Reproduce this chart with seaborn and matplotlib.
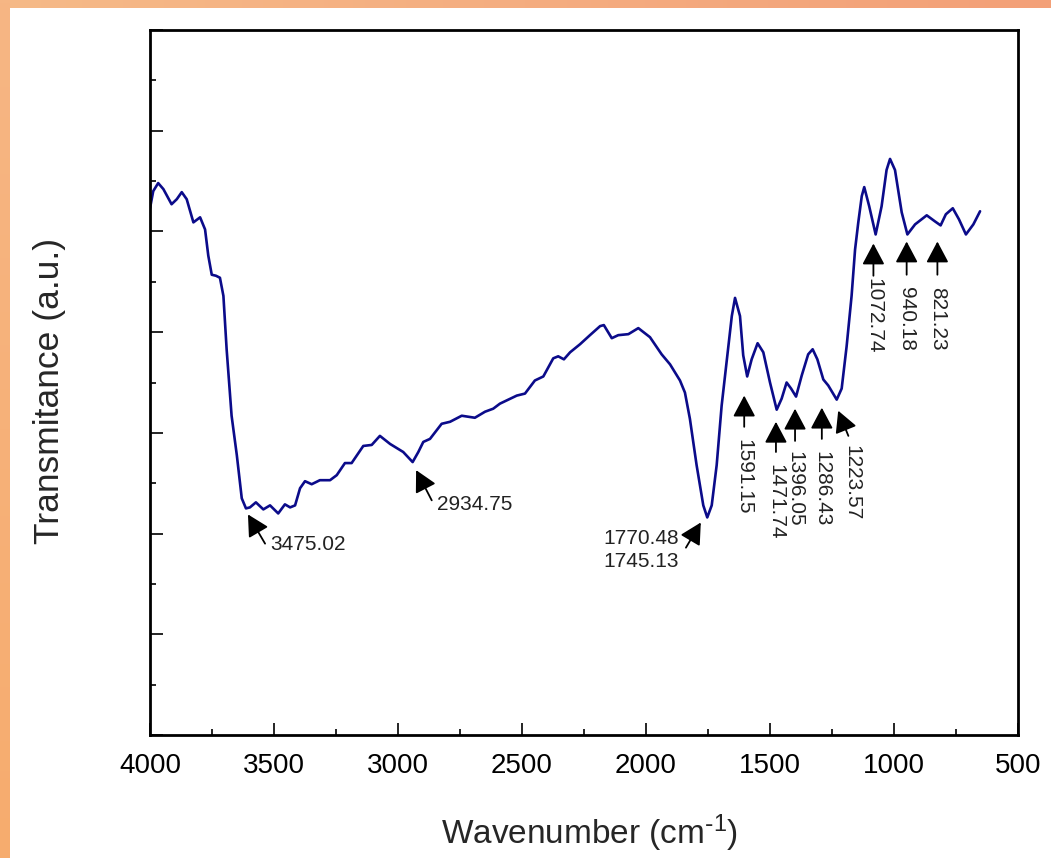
import numpy as np
import pandas as pd
import matplotlib
matplotlib.use("Agg")
import matplotlib.pyplot as plt
from matplotlib.patches import ArrowStyle
from matplotlib.ticker import MultipleLocator, NullFormatter
import seaborn as sns

# FTIR spectrum (wavenumber in cm^-1, transmittance in arbitrary units)
wavenumber = [
    4000, 3987, 3967, 3946, 3913, 3892, 3872, 3852, 3825, 3798, 3778, 3765,
    3751, 3734, 3718, 3704, 3691, 3671, 3650, 3630, 3613, 3597, 3573, 3543,
    3516, 3483, 3456, 3435, 3415, 3395, 3375, 3348, 3315, 3274, 3247, 3214,
    3187, 3140, 3106, 3073, 3032, 2979, 2941, 2918, 2898, 2871, 2824, 2790,
    2743, 2690, 2649, 2616, 2589, 2521, 2488, 2448, 2414, 2374, 2354, 2331,
    2306, 2266, 2226, 2185, 2170, 2138, 2112, 2071, 2031, 1984, 1937, 1903,
    1863, 1843, 1823, 1796, 1769, 1753, 1735, 1715, 1695, 1675, 1654, 1641,
    1621, 1608, 1592, 1574, 1550, 1527, 1500, 1473, 1453, 1433, 1415, 1395,
    1372, 1346, 1328, 1309, 1285, 1265, 1231, 1211, 1191, 1171, 1157, 1144,
    1130, 1120, 1100, 1074, 1050, 1030, 1016, 996, 969, 946, 915, 868,
    835, 812, 791, 763, 738, 710, 680, 653,
]
transmittance = [
    5.23, 5.40, 5.48, 5.42, 5.27, 5.32, 5.39, 5.32, 5.09, 5.14, 5.02, 4.76,
    4.57, 4.56, 4.54, 4.36, 3.83, 3.17, 2.78, 2.35, 2.25, 2.26, 2.31, 2.24,
    2.28, 2.20, 2.29, 2.26, 2.28, 2.45, 2.52, 2.49, 2.53, 2.53, 2.58, 2.70,
    2.70, 2.87, 2.88, 2.97, 2.89, 2.81, 2.71, 2.81, 2.91, 2.94, 3.09, 3.11,
    3.17, 3.15, 3.21, 3.24, 3.29, 3.37, 3.39, 3.52, 3.56, 3.74, 3.76, 3.73,
    3.80, 3.88, 3.97, 4.06, 4.07, 3.94, 3.97, 3.98, 4.04, 3.95, 3.78, 3.68,
    3.52, 3.40, 3.14, 2.68, 2.28, 2.16, 2.28, 2.68, 3.27, 3.70, 4.16, 4.34,
    4.16, 3.77, 3.56, 3.73, 3.89, 3.80, 3.50, 3.23, 3.34, 3.50, 3.44, 3.36,
    3.57, 3.78, 3.83, 3.73, 3.53, 3.47, 3.33, 3.44, 3.86, 4.36, 4.82, 5.09,
    5.35, 5.44, 5.25, 4.97, 5.25, 5.61, 5.72, 5.61, 5.19, 4.97, 5.07, 5.16,
    5.10, 5.06, 5.17, 5.23, 5.12, 4.97, 5.07, 5.20,
]

# Peak annotations: label, arrow tip (x, y), arrow tail (x, y), text anchor (x, y)
peak_labels = ["3475.02", "2934.75", "1770.48\n1745.13", "1591.15", "1471.74",
               "1396.05", "1286.43", "1223.57", "1072.74", "940.18", "821.23"]
arrow_tips = [(3605, 2.19), (2927, 2.63), (1779, 2.11), (1604, 3.37),
              (1476, 3.11), (1399, 3.24), (1291, 3.25), (1225, 3.22),
              (1083, 4.88), (949, 4.90), (825, 4.90)]
arrow_tails = [(3536, 1.90), (2864, 2.33), (1839, 1.86), (1604, 3.06),
               (1476, 2.81), (1399, 2.92), (1291, 2.94), (1184, 2.97),
               (1083, 4.56), (949, 4.57), (825, 4.57)]
text_anchors = [(3516, 1.89), (2844, 2.29), (1867, 1.835), (1604, 2.94),
                (1476, 2.69), (1399, 2.82), (1291, 2.82), (1171, 2.88),
                (1083, 4.54), (949, 4.45), (825, 4.45)]
vertical_text = [False, False, False, True, True, True, True, True, True, True, True]

sns.set_style("ticks")
plt.rcParams["font.family"] = ["Liberation Sans", "DejaVu Sans"]
plt.rcParams["mathtext.default"] = "regular"

fig = plt.figure(figsize=(10.51, 8.58), dpi=100)
fig.patch.set_facecolor("white")

# orange frame strips along the top and left edges
top_strip = fig.add_axes([0, 1 - 8 / 858, 1, 8 / 858])
grad_top = np.linspace(0, 1, 256)[None, :, None]
c0 = np.array([246, 186, 136]) / 255
c1 = np.array([243, 160, 120]) / 255
top_strip.imshow(c0 + (c1 - c0) * grad_top, aspect="auto")
top_strip.axis("off")
left_strip = fig.add_axes([0, 0, 10 / 1051, 1])
grad_left = np.linspace(0, 1, 256)[:, None, None]
l0 = np.array([246, 182, 132]) / 255
l1 = np.array([246, 172, 110]) / 255
left_strip.imshow(l0 + (l1 - l0) * grad_left, aspect="auto")
left_strip.axis("off")

ax = fig.add_axes([150 / 1051, 123 / 858, 868 / 1051, 705 / 858])
df = pd.DataFrame({"Wavenumber": wavenumber, "Transmittance": transmittance})
sns.lineplot(data=df, x="Wavenumber", y="Transmittance", ax=ax, sort=False,
             color="#0b0b8a", linewidth=1.9, estimator=None,
             solid_joinstyle="round", solid_capstyle="round")

ax.set_xlim(4000, 500)
ax.set_ylim(0, 7)
ax.xaxis.set_major_locator(MultipleLocator(500))
ax.xaxis.set_minor_locator(MultipleLocator(250))
ax.yaxis.set_major_locator(MultipleLocator(1))
ax.yaxis.set_minor_locator(MultipleLocator(0.5))
ax.yaxis.set_major_formatter(NullFormatter())
ax.tick_params(axis="both", which="both", direction="in", width=1.2,
               colors="black", top=False, right=False)
ax.tick_params(axis="both", which="major", length=9)
ax.tick_params(axis="both", which="minor", length=4.5)
ax.tick_params(axis="x", which="major", labelsize=20, pad=13)
for side in ["left", "right", "top", "bottom"]:
    ax.spines[side].set_linewidth(2.0)
    ax.spines[side].set_color("black")

ax.set_xlabel(r"Wavenumber (cm$^{\text{-}1}$)", fontsize=24)
ax.set_ylabel("Transmitance (a.u.)", fontsize=25.5)
ax.xaxis.set_label_coords(0.506, -0.11)
ax.yaxis.set_label_coords(-0.097, 0.488)

head = ArrowStyle("-|>", head_length=1.0, head_width=0.53)
for label, tip, tail, anchor, vert in zip(peak_labels, arrow_tips, arrow_tails,
                                          text_anchors, vertical_text):
    ax.annotate("", xy=tip, xytext=tail,
                arrowprops=dict(arrowstyle=head, color="black", lw=1.3,
                                shrinkA=0, shrinkB=0, mutation_scale=13))
    if vert:
        ax.text(anchor[0], anchor[1], label, rotation=-90, ha="center",
                va="top", fontsize=15, color="#222222")
    elif label.startswith("1770"):
        ax.text(anchor[0], anchor[1], label, ha="right", va="center",
                fontsize=15, color="#222222", linespacing=1.25)
    else:
        ax.text(anchor[0], anchor[1], label, ha="left", va="center",
                fontsize=15, color="#222222")

fig.savefig("out.png", dpi=100, facecolor="white")
